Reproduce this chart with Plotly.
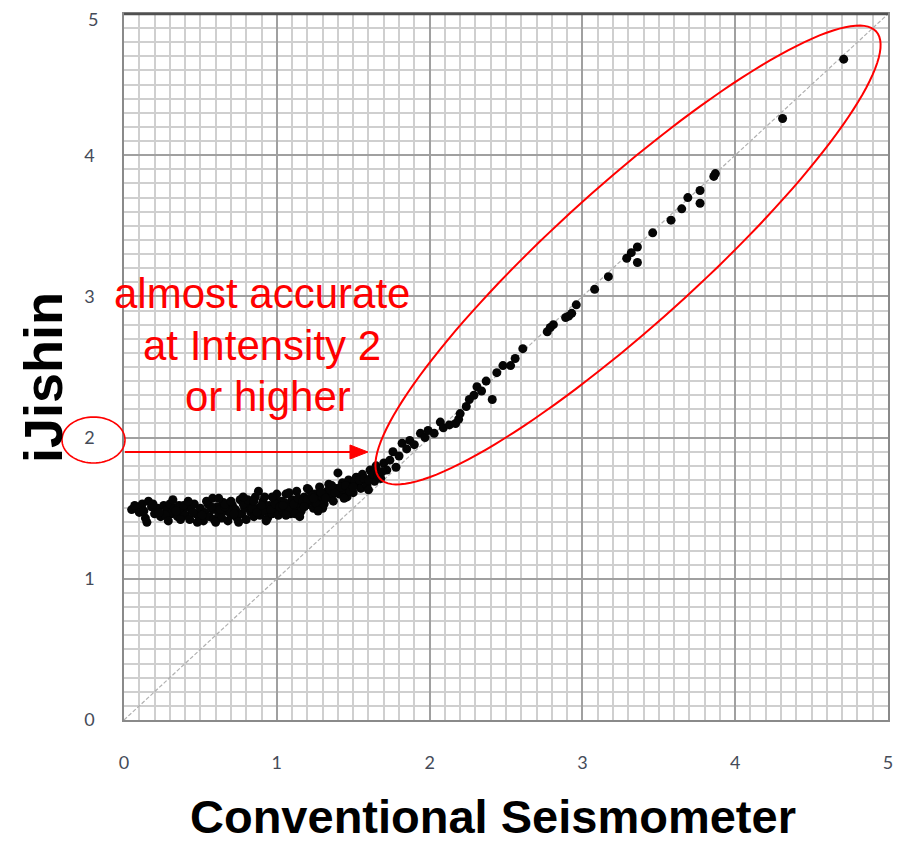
import math
import plotly.graph_objects as go

# ---------------- data ----------------
cluster_x = [0.05, 0.08, 0.10, 0.12, 0.14, 0.16, 0.18, 0.20, 0.22, 0.24, 0.26, 0.28, 0.30, 0.31, 0.33,
             0.35, 0.36, 0.38, 0.40, 0.41, 0.43, 0.44, 0.46, 0.47, 0.49, 0.50, 0.52, 0.53, 0.55, 0.56,
             0.58, 0.59, 0.61, 0.62, 0.64, 0.65, 0.67, 0.68, 0.70, 0.71, 0.73, 0.74, 0.76, 0.77, 0.79,
             0.80, 0.82, 0.83, 0.85, 0.86, 0.88, 0.89, 0.91, 0.92, 0.94, 0.95, 0.97, 0.98, 1.00, 1.01,
             1.03, 1.04, 1.06, 1.07, 1.09, 1.10, 1.12, 1.13, 1.15, 1.16, 1.18, 1.19, 1.21, 1.22, 1.24,
             1.25, 1.27, 1.28, 1.30, 1.31, 1.33, 1.34, 1.36, 1.37, 1.39, 1.40, 1.41, 1.43, 1.44, 1.46,
             1.47, 1.49, 1.50, 1.52, 1.53, 1.55, 1.56, 1.58, 1.59, 1.61, 1.62, 1.64, 1.65, 1.67, 1.68,
             1.70, 1.72,
             0.07, 0.13, 0.19, 0.27, 0.34, 0.39, 0.45, 0.51, 0.57, 0.63, 0.69, 0.72, 0.78, 0.84, 0.87,
             0.90, 0.96, 0.99, 1.02, 1.05, 1.08, 1.11, 1.14, 1.17, 1.20, 1.23, 1.26, 1.29, 1.32, 1.35,
             1.38, 1.42, 1.45, 1.48, 1.51, 1.54, 1.57, 1.60, 1.63, 1.66, 1.69,
             0.15, 0.23, 0.29, 0.37, 0.42, 0.48, 0.54, 0.60, 0.66, 0.75, 0.81, 0.93, 1.00, 1.06, 1.12,
             1.18, 1.24, 1.30, 1.36, 1.44, 0.32, 0.58, 0.66, 0.88, 0.97, 1.04, 1.15, 1.27, 1.50, 1.60,
             0.62, 0.70, 0.78, 0.85, 0.92, 1.08, 1.20]
cluster_y = [1.49, 1.50, 1.47, 1.53, 1.43, 1.55, 1.51, 1.46, 1.50, 1.44, 1.52, 1.49, 1.53, 1.46, 1.50,
             1.44, 1.52, 1.48, 1.45, 1.51, 1.42, 1.49, 1.53, 1.46, 1.44, 1.50, 1.41, 1.47, 1.53, 1.44,
             1.49, 1.42, 1.51, 1.46, 1.43, 1.54, 1.48, 1.41, 1.45, 1.52, 1.49, 1.43, 1.56, 1.46, 1.50,
             1.42, 1.53, 1.47, 1.44, 1.58, 1.50, 1.45, 1.55, 1.48, 1.43, 1.52, 1.46, 1.57, 1.50, 1.45,
             1.55, 1.48, 1.60, 1.52, 1.46, 1.56, 1.50, 1.62, 1.53, 1.48, 1.58, 1.52, 1.63, 1.55, 1.50,
             1.60, 1.56, 1.65, 1.58, 1.53, 1.62, 1.67, 1.59, 1.55, 1.64, 1.75, 1.60, 1.68, 1.63, 1.58,
             1.70, 1.65, 1.61, 1.72, 1.67, 1.64, 1.74, 1.69, 1.66, 1.77, 1.72, 1.69, 1.80, 1.75, 1.71,
             1.82, 1.77,
             1.52, 1.48, 1.53, 1.45, 1.48, 1.52, 1.47, 1.45, 1.51, 1.49, 1.48, 1.46, 1.53, 1.50, 1.47,
             1.52, 1.49, 1.53, 1.51, 1.54, 1.49, 1.53, 1.57, 1.55, 1.56, 1.59, 1.53, 1.61, 1.57, 1.63,
             1.61, 1.65, 1.66, 1.62, 1.69, 1.70, 1.71, 1.70, 1.74, 1.73, 1.76,
             1.40, 1.47, 1.41, 1.42, 1.55, 1.40, 1.55, 1.40, 1.51, 1.40, 1.56, 1.41, 1.60, 1.45, 1.46,
             1.51, 1.57, 1.50, 1.66, 1.57, 1.56, 1.57, 1.53, 1.62, 1.58, 1.52, 1.44, 1.48, 1.65, 1.63,
             1.57, 1.55, 1.58, 1.55, 1.58, 1.61, 1.64]

upper_x = [1.74, 1.76, 1.78, 1.80, 1.82, 1.85, 1.87, 1.90, 1.94, 1.97, 1.99, 2.03, 2.07, 2.09, 2.13,
           2.17, 2.19, 2.20, 2.24, 2.26, 2.29, 2.31, 2.34, 2.37, 2.41, 2.44, 2.48, 2.53, 2.56, 2.61,
           2.77, 2.79, 2.81, 2.89, 2.91, 2.93, 2.96, 3.08, 3.17, 3.29, 3.32, 3.36, 3.36, 3.46, 3.58,
           3.65, 3.69, 3.77, 3.77, 3.86, 3.87, 4.31, 4.71]
upper_y = [1.84, 1.90, 1.79, 1.87, 1.96, 1.92, 1.98, 1.95, 2.03, 2.00, 2.05, 2.03, 2.11, 2.07, 2.09,
           2.10, 2.13, 2.17, 2.22, 2.27, 2.30, 2.36, 2.33, 2.40, 2.27, 2.46, 2.51, 2.51, 2.56, 2.63,
           2.75, 2.78, 2.80, 2.85, 2.86, 2.88, 2.94, 3.05, 3.14, 3.27, 3.31, 3.35, 3.24, 3.45, 3.54,
           3.62, 3.70, 3.75, 3.66, 3.85, 3.87, 4.26, 4.68]

ref_line = [0, 5]
tick_vals = [0, 1, 2, 3, 4, 5]
tick_text = ["0", "1", "2", "3", "4", "5"]

x_title = "Conventional Seismometer"
y_title = "iJishin"
note_lines = ["almost accurate", "at Intensity 2", "or higher"]

# ---------------- layout geometry ----------------
# target screen pixels of the plot area; the page body adds an 8px offset
OFF = 8
W, H = 910, 845
L, R, T, B = 124, 888, 14, 720
TICKFONT = dict(family="Lato, Carlito, sans-serif", size=18, color="#454b58")


def px(xp, yp):
    return (xp - L) / (R - L), (B - yp) / (B - T)


fig = go.Figure()
fig.add_trace(go.Scatter(x=ref_line, y=ref_line, mode="lines",
                         line=dict(color="#b0b0b0", width=1.2, dash="4px,2px"),
                         hoverinfo="skip", showlegend=False))
fig.add_trace(go.Scatter(x=cluster_x + upper_x, y=cluster_y + upper_y, mode="markers",
                         marker=dict(color="#050505", size=9, line=dict(width=0)),
                         showlegend=False))

axis_common = dict(range=[0, 5], tickmode="array",
                   showgrid=True, gridcolor="#a0a0a0", gridwidth=1.8,
                   minor=dict(tickmode="linear", tick0=0, dtick=0.1, showgrid=True,
                              gridcolor="#cfcfcf", gridwidth=1.8),
                   showline=True, linecolor="#8a8a8a", linewidth=1.5, mirror=True,
                   zeroline=False, ticks="", automargin=False, tickfont=TICKFONT)

fig.update_layout(width=W, height=H,
                  margin=dict(l=L - OFF, r=W - (R - OFF), t=T - OFF, b=H - (B - OFF)),
                  paper_bgcolor="white", plot_bgcolor="white")
fig.update_xaxes(**axis_common, tickvals=tick_vals, ticktext=tick_text, ticklabelstandoff=26)
# the top y label sits at the figure edge, so it is drawn as an annotation below
fig.update_yaxes(**axis_common, tickvals=tick_vals[:-1], ticktext=tick_text[:-1], ticklabelstandoff=24)

shapes = []
x0, y0 = px(L, T)
x1, _ = px(R, T)
shapes.append(dict(type="line", xref="paper", yref="paper", x0=x0, y0=y0, x1=x1, y1=y0,
                   line=dict(color="#505050", width=2.5)))

# small ellipse around the "2" label
cx, cy, rx, ry = 93.5, 440, 31.5, 23
pts = []
for i in range(73):
    a = 2 * math.pi * i / 72
    pts.append(px(cx + rx * math.cos(a), cy + ry * math.sin(a)))
path = "M " + " L ".join(f"{p[0]:.5f},{p[1]:.5f}" for p in pts) + " Z"
shapes.append(dict(type="path", xref="paper", yref="paper", path=path,
                   line=dict(color="#ff0000", width=1.6)))

# large tilted ellipse
cx, cy, a_len, b_len, ang = 628, 255, 334, 70, math.radians(42)
pts = []
for i in range(145):
    t = 2 * math.pi * i / 144
    ex, ey = a_len * math.cos(t), b_len * math.sin(t)
    xp = cx + ex * math.cos(ang) + ey * math.sin(ang)
    yp = cy - ex * math.sin(ang) + ey * math.cos(ang)
    pts.append(px(xp, yp))
path = "M " + " L ".join(f"{p[0]:.5f},{p[1]:.5f}" for p in pts) + " Z"
shapes.append(dict(type="path", xref="paper", yref="paper", path=path,
                   line=dict(color="#ff0000", width=2)))

# arrow line and head
a0 = px(125, 452)
a1 = px(352, 452)
shapes.append(dict(type="line", xref="paper", yref="paper", x0=a0[0], y0=a0[1], x1=a1[0], y1=a1[1],
                   line=dict(color="#ff0000", width=2)))
h1, h2, h3 = px(350, 445), px(368, 452), px(350, 459)
shapes.append(dict(type="path", xref="paper", yref="paper",
                   path=f"M {h1[0]:.5f},{h1[1]:.5f} L {h2[0]:.5f},{h2[1]:.5f} L {h3[0]:.5f},{h3[1]:.5f} Z",
                   fillcolor="#ff0000", line=dict(color="#ff0000", width=1)))
fig.update_layout(shapes=shapes)

ann = []
# top y tick label, kept inside the figure edge
_, fig_top = px(L, OFF)
ann.append(dict(text=tick_text[-1], xref="paper", yref="paper", x=0, y=fig_top, xshift=-24,
                showarrow=False, xanchor="right", yanchor="top", height=17, valign="middle",
                font=TICKFONT))
tx, ty = px(493, 816)
ann.append(dict(text=f"<b>{x_title}</b>", xref="paper", yref="paper", x=tx, y=ty,
                showarrow=False, xanchor="center", yanchor="middle",
                font=dict(family="Liberation Sans, Arial, sans-serif", size=47, color="black")))
tx, ty = px(43, 378)
ann.append(dict(text=f"<b>{y_title}</b>", xref="paper", yref="paper", x=tx, y=ty, textangle=-90,
                showarrow=False, xanchor="center", yanchor="middle",
                font=dict(family="Liberation Sans, Arial, sans-serif", size=54, color="black")))
for line_text, (lx, ly) in zip(note_lines, [(262, 293), (262, 345), (268, 396)]):
    tx, ty = px(lx, ly)
    ann.append(dict(text=line_text, xref="paper", yref="paper", x=tx, y=ty,
                    showarrow=False, xanchor="center", yanchor="middle",
                    font=dict(family="Liberation Sans, Arial, sans-serif", size=42, color="#ff0000")))
fig.update_layout(annotations=ann)

fig.write_html("out.html")
